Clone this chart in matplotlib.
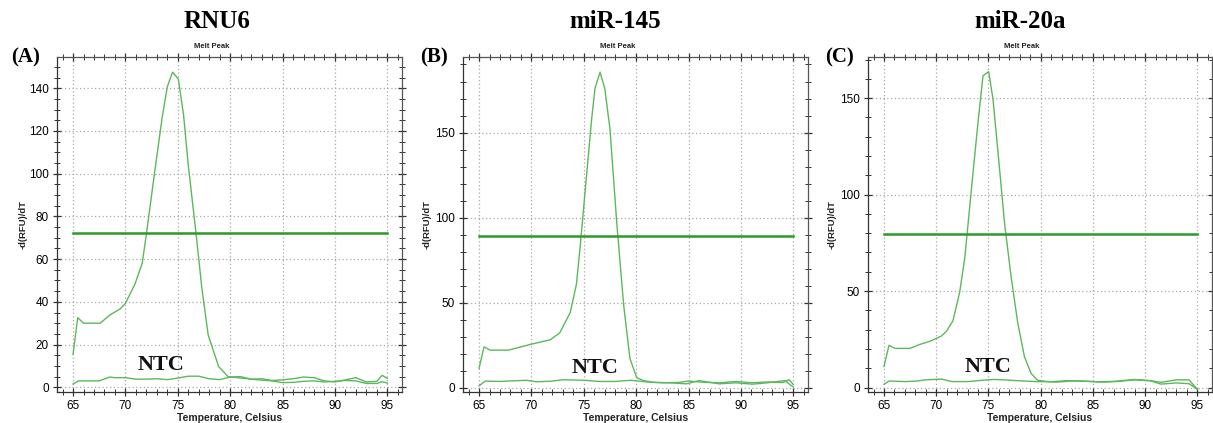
import matplotlib
matplotlib.use("Agg")
import matplotlib.pyplot as plt
from matplotlib.ticker import MultipleLocator

plt.rcParams['font.family'] = ['Liberation Sans', 'DejaVu Sans']

# ---------------- data ----------------
panel_titles = ["RNU6", "miR-145", "miR-20a"]
panel_letters = ["(A)", "(B)", "(C)"]

# Panel A (RNU6)
a_peak_t = [65, 65.45, 66.0, 67.6, 68.5, 69.5, 70.0, 70.9, 71.6, 72.0, 72.8, 73.5, 74.0, 74.5, 75.05,
            75.55, 76.0, 76.75, 77.3, 77.9, 78.9, 79.8, 80.5, 81.3, 82.0, 82.9, 84.0, 85.0, 86.0, 87.0,
            88.0, 89.0, 90.0, 91.0, 92.0, 93.0, 94.0, 94.5, 95.0]
a_peak_v = [15.4, 32.6, 30.0, 30.0, 33.8, 36.7, 39.3, 48.2, 58.0, 71.6, 101, 126, 140.7, 147.5, 144.3,
            127.5, 104, 71.6, 46.3, 24.5, 9.7, 5.0, 4.6, 4.2, 3.8, 3.4, 3.0, 2.2, 2.3, 2.8,
            3.0, 2.5, 2.8, 3.2, 3.0, 1.8, 1.8, 2.6, 2.0]
a_ntc_t = [65, 65.5, 66, 67.5, 68.5, 69, 70, 71, 72, 73, 74, 75, 76, 77, 78, 79, 80, 81, 82, 83, 84,
           85, 86, 87, 88, 89, 90, 91, 92, 93, 94, 94.5, 95]
a_ntc_v = [1.5, 3.0, 3.0, 3.0, 4.8, 4.5, 4.5, 3.8, 3.8, 4.0, 3.6, 4.3, 5.2, 5.2, 4.0, 3.6, 4.8, 5.0,
           3.8, 4.0, 3.2, 3.5, 4.0, 4.8, 4.5, 3.0, 2.5, 3.5, 4.5, 2.5, 2.8, 5.6, 4.2]
a_threshold = 72

# Panel B (miR-145)
b_peak_t = [65, 65.48, 66.05, 67.8, 70.0, 71.8, 72.7, 73.7, 74.3, 74.65, 75.2, 75.75, 76.07, 76.55,
            77.0, 77.5, 78.15, 78.8, 79.4, 80.05, 80.7, 81.6, 83.2, 84.8, 86.0, 87.9, 89.5, 91.1,
            92.5, 94.2, 94.7, 95.0]
b_peak_v = [11.5, 24.1, 22.2, 22.2, 25.7, 28.3, 32.3, 44.2, 61, 82.8, 120.5, 158, 176, 185.5,
            176, 152, 96.7, 49, 17.4, 6.0, 4.3, 3.3, 3.0, 2.4, 4.3, 2.4, 3.0, 2.2,
            3.0, 4.3, 1.8, 0.6]
b_ntc_t = [65, 65.6, 67, 68.5, 69.5, 70.5, 72, 73, 75, 76.5, 78, 79.5, 81, 82.5, 84, 85, 86.5,
           88, 89.5, 91, 92.5, 94, 94.6, 95]
b_ntc_v = [1.2, 4.0, 3.8, 4.2, 4.5, 3.6, 4.0, 4.8, 4.5, 3.8, 3.8, 4.5, 3.5, 3.0, 3.2, 4.0, 3.3,
           3.0, 3.8, 3.0, 3.5, 3.2, 4.8, 2.0]
b_threshold = 89.5

# Panel C (miR-20a)
c_peak_t = [65, 65.48, 66.05, 67.5, 68.4, 69.4, 70.5, 71.0, 71.6, 72.25, 72.73, 73.36, 74.0, 74.48,
            75.02, 75.43, 75.92, 76.55, 77.19, 77.8, 78.44, 79.07, 79.7, 80.5, 81.5, 83, 84.5,
            86, 87.5, 89, 90.5, 91.5, 93, 94.2, 95]
c_peak_v = [10.9, 21.9, 20.3, 20.3, 22.3, 24.0, 26.7, 29.3, 34.6, 49.5, 67, 102.3, 137.4, 161.6,
            163.7, 149.7, 121.6, 84.7, 56.6, 33.7, 16.1, 7.4, 3.8, 3.2, 2.8, 3.4, 3.2,
            2.8, 3.2, 4.0, 3.5, 1.8, 2.4, 2.0, -0.9]
c_ntc_t = [65, 65.5, 67, 68, 69, 70.5, 71.5, 73, 74.5, 75.5, 76.5, 78, 79.5, 81, 82.5, 84, 85.5,
           87, 89, 90.5, 91.5, 93, 94.2, 95]
c_ntc_v = [1.7, 3.4, 3.1, 3.3, 4.0, 4.4, 3.1, 3.1, 3.8, 4.2, 4.0, 3.5, 3.1, 3.0, 3.6, 3.4, 3.0,
           3.2, 4.2, 3.6, 2.7, 4.0, 4.0, -0.9]
c_threshold = 79.4

ntc_label = "NTC"
ntc_pos = [(73.4, 10.4), (76.1, 11.5), (75.0, 10.9)]

y_limits = [(-2.2, 154.6), (-2.4, 194.4), (-2.3, 171.3)]
y_major = [20, 50, 50]
y_minor = [5, 10, 10]
x_limits = (63.47, 96.4)

# ---------------- layout ----------------
W, H = 1213, 423
fig = plt.figure(figsize=(W / 100, H / 100), dpi=100)

axes_px = [(57, 402), (463, 808), (868, 1212)]  # left/right in px
top_px, bot_px = 57, 392
title_x_px = [217, 615, 1020]
letter_x_px = [26, 434, 840]
ylabel_x_px = [23, 427, 832]

curve_color = "#5cb85c"
thr_color = "#2a9a2a"

peaks = [(a_peak_t, a_peak_v), (b_peak_t, b_peak_v), (c_peak_t, c_peak_v)]
ntcs = [(a_ntc_t, a_ntc_v), (b_ntc_t, b_ntc_v), (c_ntc_t, c_ntc_v)]
thresholds = [a_threshold, b_threshold, c_threshold]

for i in range(3):
    l, r = axes_px[i]
    ax = fig.add_axes([l / W, 1 - bot_px / H, (r - l) / W, (bot_px - top_px) / H])
    pt, pv = peaks[i]
    nt, nv = ntcs[i]
    ax.plot(nt, nv, color=curve_color, lw=1.0)
    ax.plot(pt, pv, color=curve_color, lw=1.0)
    ax.plot([65, 95], [thresholds[i], thresholds[i]], color=thr_color, lw=1.8)
    ax.set_xlim(*x_limits)
    ax.set_ylim(*y_limits[i])
    ax.xaxis.set_major_locator(MultipleLocator(5))
    ax.xaxis.set_minor_locator(MultipleLocator(1))
    ax.yaxis.set_major_locator(MultipleLocator(y_major[i]))
    ax.yaxis.set_minor_locator(MultipleLocator(y_minor[i]))
    ax.grid(True, which="major", color="#a8a8a8", linestyle=(0, (1, 2)), lw=0.9)
    ax.tick_params(which="major", direction="inout", length=6, width=0.9, color="#333333",
                   labelsize=8.5, top=True, right=True, pad=3)
    ax.tick_params(which="minor", direction="inout", length=4, width=0.7, color="#333333",
                   top=True, right=True)
    for s in ax.spines.values():
        s.set_color("#555555")
        s.set_linewidth(0.9)
    ax.spines["left"].set_color("#333333")
    ax.spines["bottom"].set_color("#333333")
    ax.set_xticks(range(65, 96, 5))
    ax.text(ntc_pos[i][0], ntc_pos[i][1], ntc_label, ha="center", va="center",
            fontsize=16, fontweight="bold", family="Liberation Serif", color="#111111")

    cx = (l + r) / 2
    fig.text(title_x_px[i] / W, 1 - 22 / H, panel_titles[i], ha="center", va="center",
             fontsize=18, fontweight="bold", family="Liberation Serif")
    fig.text(letter_x_px[i] / W, 1 - 57 / H, panel_letters[i], ha="center", va="center",
             fontsize=15, fontweight="bold", family="Liberation Serif")
    fig.text((cx - 18) / W, 1 - 46.5 / H, "Melt Peak", ha="center", va="center",
             fontsize=5.5, fontweight="bold", color="#222222")
    fig.text(ylabel_x_px[i] / W, 1 - 224 / H, "-d(RFU)/dT", ha="center", va="center",
             rotation=90, fontsize=6.8, fontweight="bold", color="#222222")
    fig.text((cx + 0) / W, 1 - 418 / H, "Temperature, Celsius", ha="center", va="center",
             fontsize=7.5, fontweight="bold", color="#222222")

fig.savefig("out.png", dpi=100)
